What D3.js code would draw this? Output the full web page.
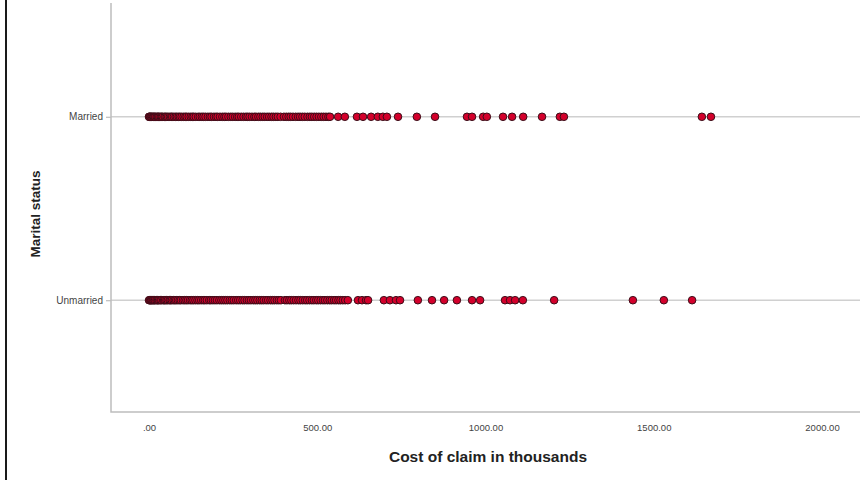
<!DOCTYPE html>
<html>
<head>
<meta charset="utf-8">
<script src="https://cdn.jsdelivr.net/npm/d3@7"></script>
<style>
  html, body { margin: 0; padding: 0; background: #fff; }
  svg { display: block; font-family: "Liberation Sans", Arial, sans-serif; }
</style>
</head>
<body>
<svg id="chart" width="868" height="480"></svg>
<script>
// Marital status categories (top to bottom)
const categories = ["Married", "Unmarried"];

// Cost of claim (in thousands) for each claim, by marital status
const marriedCosts = [
  0, 1, 3, 5, 7, 9, 12, 14, 17, 19, 23, 26, 28, 31, 35, 38, 41, 46, 49, 53,
  57, 62, 66, 69, 74, 79, 83, 88, 92, 97, 103, 108, 112, 118, 124, 129, 133,
  139, 146, 151, 157, 162, 168, 175, 181, 186, 193, 199, 204, 211, 218, 224,
  229, 236, 243, 249, 256, 262, 267, 274, 281, 288, 293, 299, 306, 313, 318,
  325, 331, 338, 344, 351, 357, 364, 370, 377, 383, 391, 401, 408, 415, 421,
  428, 436, 443, 449, 456, 463, 471, 478, 484, 491, 498, 505, 512, 519, 526,
  533, 538,
  562, 582, 618, 636, 660, 680, 695, 707, 740, 796, 850, 945, 960, 993, 1004,
  1052, 1079, 1112, 1168, 1221, 1233, 1643, 1670
];
const unmarriedCosts = [
  0, 2, 4, 6, 8, 11, 13, 16, 18, 22, 25, 27, 30, 34, 37, 42, 45, 48, 52, 56,
  61, 64, 68, 73, 77, 81, 86, 91, 95, 101, 106, 111, 116, 122, 127, 132, 138,
  144, 149, 155, 161, 166, 172, 179, 184, 190, 196, 202, 209, 215, 221, 227,
  233, 240, 246, 252, 259, 265, 271, 278, 284, 291, 297, 303, 310, 316, 322,
  329, 335, 341, 348, 354, 361, 367, 373, 380, 386, 392, 404, 410, 417, 423,
  430, 437, 444, 450, 457, 464, 470, 477, 484, 490, 497, 503, 510, 517, 523,
  530, 537, 543, 550, 556, 563, 569, 576, 583, 591,
  621, 633, 645, 651, 698, 716, 734, 746, 799, 841, 877, 915, 960, 984, 1058,
  1073, 1088, 1111, 1204, 1438, 1530, 1614
];

// X axis ticks and their printed labels
const xTicks = [0, 500, 1000, 1500, 2000];
const xTickLabels = [".00", "500.00", "1000.00", "1500.00", "2000.00"];

const xTitle = "Cost of claim in thousands";
const yTitle = "Marital status";

const svg = d3.select("#chart");

// Plot frame
const frame = { left: 111, right: 860, top: 3, bottom: 412 };

const x = d3.scaleLinear().domain([0, 2000]).range([149, 822]);
const y = d3.scalePoint().domain(categories).range([frame.top + 1, frame.bottom + 1]).padding(0.615);

// Outer left border
svg.append("line")
  .attr("x1", 6).attr("x2", 6).attr("y1", 0).attr("y2", 480)
  .attr("stroke", "#1a1a1a").attr("stroke-width", 2);

// Category reference lines
svg.append("g").selectAll("line").data(categories).join("line")
  .attr("x1", frame.left).attr("x2", frame.right)
  .attr("y1", d => y(d)).attr("y2", d => y(d))
  .attr("stroke", "#d0d0d0").attr("stroke-width", 1.5);

// Y axis
const yAxis = svg.append("g")
  .attr("transform", `translate(${frame.left},0)`)
  .call(d3.axisLeft(y).tickSize(5).tickPadding(3));
yAxis.select(".domain").remove();
yAxis.selectAll(".tick line").attr("stroke", "#bdbdbd").attr("stroke-width", 1.2);
yAxis.selectAll(".tick text")
  .attr("fill", "#444").attr("font-size", 10)
  .attr("font-family", "'Liberation Sans', Arial, sans-serif");

// X axis (labels only, no tick marks)
const xAxis = svg.append("g")
  .attr("transform", `translate(0,${frame.bottom})`)
  .call(d3.axisBottom(x).tickValues(xTicks)
    .tickFormat((d, i) => xTickLabels[i]).tickSize(0).tickPadding(12));
xAxis.select(".domain").remove();
xAxis.selectAll(".tick text")
  .attr("fill", "#444").attr("font-size", 9.5)
  .attr("font-family", "'Liberation Sans', Arial, sans-serif");

// Frame lines (left and bottom)
svg.append("path")
  .attr("d", `M${frame.left},${frame.top}V${frame.bottom}H${frame.right}`)
  .attr("fill", "none").attr("stroke", "#bdbdbd").attr("stroke-width", 1.5);

// Points
const pts = [
  ...marriedCosts.map(v => ({ cat: "Married", v })),
  ...unmarriedCosts.map(v => ({ cat: "Unmarried", v }))
];
svg.append("g").selectAll("circle").data(pts).join("circle")
  .attr("cx", d => x(d.v))
  .attr("cy", d => y(d.cat))
  .attr("r", 3.8)
  .attr("fill", "#d3002b")
  .attr("stroke", "#3b0d18")
  .attr("stroke-width", 1);

// Axis titles
svg.append("text")
  .attr("x", 488).attr("y", 462)
  .attr("text-anchor", "middle")
  .attr("font-size", 15.5).attr("font-weight", "bold").attr("fill", "#222")
  .text(xTitle);

svg.append("text")
  .attr("transform", "translate(40,214) rotate(-90)")
  .attr("text-anchor", "middle")
  .attr("font-size", 13.5).attr("font-weight", "bold").attr("fill", "#222")
  .text(yTitle);
</script>
</body>
</html>
